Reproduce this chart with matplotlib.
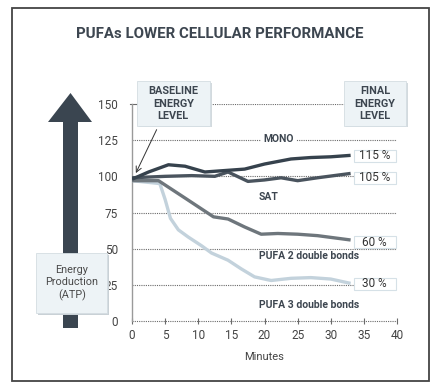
import matplotlib
matplotlib.use("Agg")
import matplotlib.pyplot as plt
from matplotlib.patches import Polygon, Rectangle

plt.rcParams['font.family'] = ['Roboto', 'DejaVu Sans']

# data
mono_min = [0, 2.5, 5.5, 8, 11, 14, 17, 20, 24, 27, 30, 33]
mono = [98, 103, 108, 107, 103, 104, 105, 108.5, 112, 113, 113.5, 114.5]
sat_min = [0, 5, 9, 12.5, 14.5, 17.5, 20, 22.5, 25, 28, 33]
sat = [99, 100, 100.5, 100, 103, 96.5, 97.5, 99, 97, 99, 102]
pufa2_min = [0, 4, 8, 12.3, 14.5, 17, 19.5, 22, 25, 28, 33]
pufa2 = [97, 97, 85, 72, 70.5, 65, 60, 60.5, 60, 59, 56]
pufa3_min = [0, 4.2, 5, 5.8, 7, 8.5, 10.5, 12, 14.5, 16.5, 18.5, 21, 24, 27, 30, 33]
pufa3 = [97, 95, 84, 71, 63, 58, 52, 47, 42, 36, 30.5, 28, 29.5, 30, 29, 26]
final_labels = ['115 %', '105 %', '60 %', '30 %']
final_label_y = [114.3, 99, 54.4, 25.6]
y_ticks = [0, 25, 50, 75, 100, 125, 150]
x_ticks = [0, 5, 10, 15, 20, 25, 30, 35, 40]

W, H = 434, 388
DARK = '#3a4550'
TXT = '#3d4650'
BOXFILL = '#edf3f6'


def px(x, y):
    """pixel position (from top-left) -> figure fraction"""
    return (x / W, 1 - y / H)


fig = plt.figure(figsize=(W / 100, H / 100), dpi=100)
fig.patch.set_facecolor('white')

# outer frame
fig.patches.append(Rectangle(px(12, 381), 417 / W, 373 / H, transform=fig.transFigure,
                             fill=False, edgecolor='#444444', linewidth=1.3))

fig.text(*px(220, 34), 'PUFAs LOWER CELLULAR PERFORMANCE', ha='center', va='center',
         fontsize=10.8, fontweight='bold', color=TXT)

ax = fig.add_axes([132 / W, 67 / H, 265 / W, 217 / H])
ax.set_xlim(0, 40)
ax.set_ylim(0, 150)
for s in ['top', 'right', 'bottom']:
    ax.spines[s].set_visible(False)
ax.spines['left'].set_color('#9a9a9a')
ax.spines['left'].set_linewidth(1.0)

# dotted grid lines
for yv in [25, 50, 75, 100, 125]:
    ax.plot([0, 40.3], [yv, yv], linestyle=(0, (1, 1)), color='#6a6a6a', linewidth=0.8, zorder=1)
ax.plot([11.7, 32], [150, 150], linestyle=(0, (1, 1)), color='#6a6a6a', linewidth=0.8, zorder=1)
ax.plot([-0.3, 0.8], [150, 150], color='#6a6a6a', linewidth=0.8, clip_on=False)
ax.plot([0, 40], [0, 0], linestyle=(0, (1, 1)), color='#6a6a6a', linewidth=0.8, clip_on=False)

ax.set_yticks(y_ticks)
ax.set_xticks(x_ticks)
ax.tick_params(axis='y', length=0, pad=10, labelsize=8.5, labelcolor='#444444')
ax.tick_params(axis='x', length=4, direction='inout', width=0.8, color='#6a6a6a',
               pad=4, labelsize=8.5, labelcolor='#444444')
ax.set_xlabel('Minutes', fontsize=8, color='#444444', labelpad=7)

# series
ax.plot(pufa3_min, pufa3, color='#c3d2dc', linewidth=2.4, solid_capstyle='butt', zorder=3)
ax.plot(pufa2_min, pufa2, color='#6e767c', linewidth=2.4, solid_capstyle='butt', zorder=4)
ax.plot(sat_min, sat, color='#4a545e', linewidth=2.4, solid_capstyle='butt', zorder=5)
ax.plot(mono_min, mono, color='#36424d', linewidth=2.4, solid_capstyle='butt', zorder=6)

box = dict(boxstyle='square,pad=0.25', facecolor='white', edgecolor='none')
ax.text(22.1, 126, 'MONO', ha='center', va='center', fontsize=7.5, fontweight='bold', color=TXT, bbox=box, zorder=7)
ax.text(20.6, 86, 'SAT', ha='center', va='center', fontsize=7.5, fontweight='bold', color=TXT, zorder=7)
ax.text(26.7, 44.6, 'PUFA 2 double bonds', ha='center', va='center', fontsize=7.5, fontweight='bold', color=TXT, zorder=7)
ax.text(26.7, 11, 'PUFA 3 double bonds', ha='center', va='center', fontsize=7.5, fontweight='bold', color=TXT, zorder=7)

# end value boxes
for yv, lab in zip(final_label_y, final_labels):
    ax.add_patch(Rectangle((33.5, yv - 4.2), 6.3, 8.4, facecolor='white', edgecolor='#d6e1e7',
                           linewidth=0.8, zorder=8, clip_on=False))
    ax.text(36.65, yv, lab, ha='center', va='center', fontsize=8.5, color='#333333',
            zorder=9, clip_on=False)

# header boxes
for xl, xr, lab in [(0.76, 11.7, 'BASELINE\nENERGY\nLEVEL'), (32, 41.4, 'FINAL\nENERGY\nLEVEL')]:
    ax.add_patch(Rectangle((xl + 0.3, 134), xr - xl, 30.6, facecolor='#d3dade', edgecolor='none',
                           zorder=7, clip_on=False))
    ax.add_patch(Rectangle((xl, 135), xr - xl, 30.6, facecolor=BOXFILL, edgecolor='#d4dde2',
                           linewidth=0.6, zorder=8, clip_on=False))
    ax.text((xl + xr) / 2, 150.3, lab, ha='center', va='center', fontsize=7.8,
            fontweight='bold', color=TXT, linespacing=1.3, zorder=9, clip_on=False)
ax.annotate('', xy=(0.4, 100.5), xytext=(3.9, 134),
            arrowprops=dict(arrowstyle='->', color='#333333', linewidth=0.7), annotation_clip=False)

# big arrow on the left
shaft = [px(63, 122), px(78, 122), px(78, 328), px(63, 328)]
head = [px(48, 122), px(70.5, 93), px(92, 122)]
fig.patches.append(Polygon(shaft, closed=True, transform=fig.transFigure, facecolor=DARK, edgecolor='none'))
fig.patches.append(Polygon(head, closed=True, transform=fig.transFigure, facecolor=DARK, edgecolor='none'))

x0, y0 = px(36, 313)
fig.patches.append(Rectangle((x0 + 0.004, y0 - 0.006), 71 / W, 60 / H, transform=fig.transFigure,
                             facecolor='#c9d1d6', edgecolor='none'))
fig.patches.append(Rectangle((x0, y0), 71 / W, 60 / H, transform=fig.transFigure,
                             facecolor=BOXFILL, edgecolor='#d4dde2', linewidth=0.6))
fig.text(*px(72, 283), 'Energy\nProduction\n(ATP)', ha='center', va='center', fontsize=7.8,
         color='#4a4a4a', linespacing=1.3)

fig.savefig('out.png', dpi=100)
